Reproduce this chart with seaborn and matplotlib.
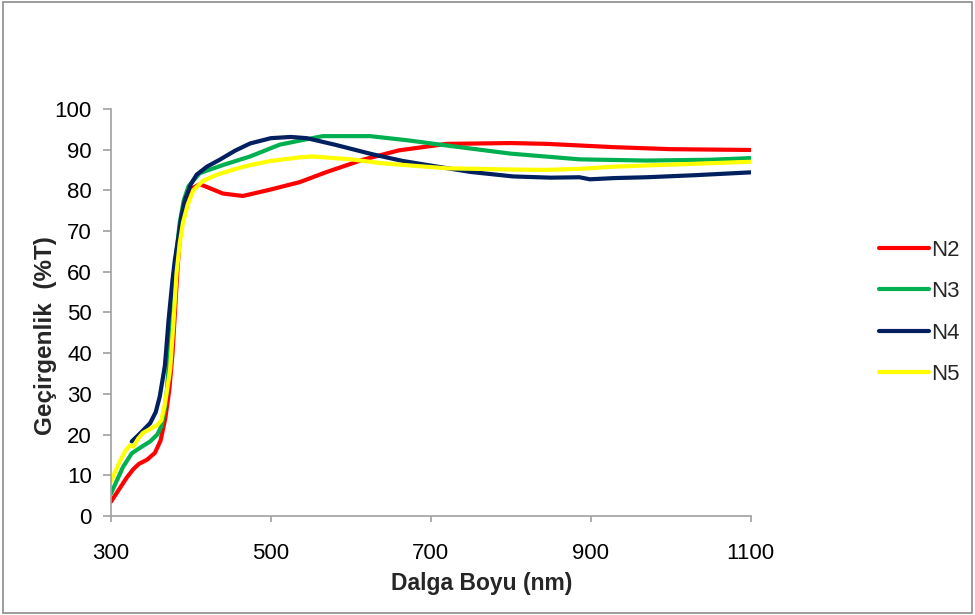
import pandas as pd
import matplotlib
matplotlib.use("Agg")
import matplotlib.pyplot as plt
import seaborn as sns
from matplotlib.patches import Rectangle

# N2
wl_n2 = [300, 310, 320, 328, 335, 345, 355, 362, 368, 373, 377, 380, 383, 386, 390, 395,
         402, 411, 420, 440, 465, 500, 536, 570, 615, 660, 720, 800, 845, 928, 1000, 1100]
t_n2 = [3.5, 6.5, 9.5, 11.5, 12.8, 13.8, 15.5, 18.5, 24, 31, 40, 50, 60, 68, 74, 78,
        80.5, 81.5, 80.8, 79.2, 78.6, 80.2, 82, 84.5, 87.5, 89.8, 91.4, 91.6, 91.4, 90.6, 90.1, 89.9]

# N3
wl_n3 = [300, 315, 326, 340, 349, 358, 363, 367, 370, 373, 375, 378, 382, 386, 391, 397,
         411, 440, 474, 511, 536, 565, 624, 670, 720, 800, 886, 970, 1050, 1100]
t_n3 = [5.5, 12, 15.4, 17.2, 18.3, 20, 22, 26, 31, 39, 47, 56, 65, 72, 77.5, 81,
        84.2, 86.2, 88.3, 91.2, 92.2, 93.3, 93.3, 92.3, 91, 89, 87.6, 87.3, 87.5, 87.9]

# N4
wl_n4 = [326, 335, 349, 356, 361, 365, 367.5, 370, 372, 374, 377, 380, 384, 388, 392.5, 400,
         407, 420, 436, 455, 474, 500, 525, 545, 580, 628, 665, 699, 750, 803, 850, 886,
         899, 930, 970, 1030, 1100]
t_n4 = [18.3, 20, 22.8, 25.5, 29.3, 34, 37, 43, 48, 52, 58, 63, 68, 73.5, 77.6, 81.5,
        83.8, 85.8, 87.5, 89.7, 91.5, 92.8, 93.1, 92.8, 91.2, 88.8, 87.2, 86.1, 84.5, 83.4, 83.1, 83.2,
        82.7, 83.0, 83.2, 83.7, 84.4]

# N5
wl_n5 = [300, 310, 318, 324, 328, 334, 340, 350, 358, 363, 367, 371, 374, 378, 382, 386, 390,
         396, 403, 415, 432, 455, 474, 500, 536, 553, 600, 636, 680, 720, 800, 845, 890, 928,
         1000, 1100]
t_n5 = [8.5, 13, 16, 17.4, 17, 19, 20.4, 21.5, 22.3, 23.5, 27, 32, 36, 47, 59.6, 67, 72,
        76.5, 80, 82.3, 83.8, 85.2, 86.2, 87.2, 88.1, 88.3, 87.6, 86.7, 86.0, 85.4, 85.1, 85.0, 85.3, 85.8,
        86.3, 87.0]

series = {"N2": (wl_n2, t_n2), "N3": (wl_n3, t_n3), "N4": (wl_n4, t_n4), "N5": (wl_n5, t_n5)}
colors = {"N2": "#FF0000", "N3": "#00B050", "N4": "#002060", "N5": "#FFFF00"}

rows = []
for name, (xs, ys) in series.items():
    for x, y in zip(xs, ys):
        rows.append({"wl": x, "T": y, "sample": name})
df = pd.DataFrame(rows)

sns.set_style("white")
plt.rcParams['font.family'] = ['Liberation Sans', 'DejaVu Sans']

fig = plt.figure(figsize=(9.75, 6.15), dpi=100)
ax = fig.add_axes([0.1138, 0.161, 0.656, 0.662])

sns.lineplot(data=df, x="wl", y="T", hue="sample", palette=colors, estimator=None,
             sort=False, linewidth=3, ax=ax)

ax.set_xlim(300, 1100)
ax.set_ylim(0, 100)
ax.set_xticks([300, 500, 700, 900, 1100])
ax.set_yticks(range(0, 101, 10))
ax.tick_params(axis="both", labelsize=16, colors="#A0A0A0", labelcolor="black",
               direction="out", width=1.2, bottom=True, left=True)
ax.tick_params(axis="x", pad=15, length=4.3)
ax.tick_params(axis="y", pad=8, length=5.8)
for side in ["top", "right"]:
    ax.spines[side].set_visible(False)
for side in ["left", "bottom"]:
    ax.spines[side].set_color("#A0A0A0")
    ax.spines[side].set_linewidth(1.2)

ax.set_xlabel("Dalga Boyu (nm)", fontsize=16.5, fontweight="bold")
ax.set_ylabel("Geçirgenlik  (%T)", fontsize=17.5, fontweight="bold")
ax.xaxis.set_label_coords(0.580, -0.1376)
ax.yaxis.set_label_coords(-0.084, 0.442)

ax.legend(title=None, frameon=False, fontsize=16, loc="center left",
          bbox_to_anchor=(0.881, 0.492), bbox_transform=fig.transFigure,
          handlelength=2.25, labelspacing=0.92, handletextpad=0.1)

fig.patches.append(Rectangle((0.003, 0.004), 0.994, 0.992, transform=fig.transFigure,
                             fill=False, edgecolor="#8C8C8C", linewidth=1.2))

fig.savefig("out.png", dpi=100)
